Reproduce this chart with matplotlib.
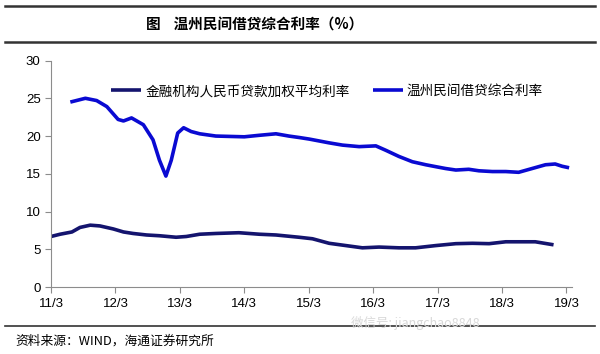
import matplotlib.pyplot as plt
from matplotlib.lines import Line2D

plt.rcParams['font.family'] = ['Noto Sans CJK SC', 'DejaVu Sans']

# month index counted from 2011-03 (0) to 2019-03 (96)
tick_months = [0, 12, 24, 36, 48, 60, 72, 84, 96]
tick_labels = ['11/3', '12/3', '13/3', '14/3', '15/3', '16/3', '17/3', '18/3', '19/3']

# 金融机构人民币贷款加权平均利率
bank_months = [0, 1.7, 3.9, 5.4, 7.3, 9.1, 11.6, 13.5, 15.3, 17.8, 20.2, 23.3, 25.2,
               27.7, 30.7, 35, 38.8, 41.9, 46.2, 48.7, 51.8, 54.9, 58, 61.1, 64.8,
               67.9, 71.7, 75.4, 78.5, 81.6, 84.7, 87.1, 90.2, 93.6]
bank_rate = [6.7, 7.0, 7.3, 7.9, 8.2, 8.1, 7.7, 7.3, 7.1, 6.9, 6.8, 6.6, 6.7,
             7.0, 7.1, 7.2, 7.0, 6.9, 6.6, 6.4, 5.8, 5.5, 5.2, 5.3, 5.2,
             5.2, 5.5, 5.75, 5.8, 5.75, 6.0, 6.0, 6.0, 5.6]

# 温州民间借贷综合利率
wz_months = [3.6, 6.4, 8.5, 10.4, 12.5, 13.5, 15, 17.2, 19, 20.2, 21.4, 22.4, 23.6,
             24.7, 26.1, 27.7, 30.7, 36, 38.8, 41.9, 44.3, 46.3, 48.1, 51.8, 54.3,
             57.4, 60.5, 62.4, 64.8, 67.3, 69.8, 72, 73.5, 75.4, 77.8, 79.7, 82.2,
             84.7, 87.1, 89.6, 92.1, 93.9, 95.2, 96.5]
wz_rate = [24.5, 25.0, 24.7, 23.9, 22.2, 22.0, 22.4, 21.5, 19.5, 16.8, 14.7, 16.8, 20.4,
           21.1, 20.6, 20.3, 20.0, 19.9, 20.1, 20.3, 20.0, 19.8, 19.6, 19.1, 18.8,
           18.6, 18.7, 18.1, 17.3, 16.6, 16.2, 15.9, 15.7, 15.5, 15.6, 15.4, 15.3,
           15.3, 15.2, 15.7, 16.2, 16.3, 16.0, 15.8]

navy = '#14146e'
blue = '#0a0ad2'
grey = '#8c8c8c'

fig = plt.figure(figsize=(6, 3.54), dpi=100)
ax = fig.add_axes([0.085, 0.189, 0.868, 0.64])

ax.plot(bank_months, bank_rate, color=navy, lw=2.6, solid_capstyle='butt',
        solid_joinstyle='round', label='金融机构人民币贷款加权平均利率')
ax.plot(wz_months, wz_rate, color=blue, lw=2.6, solid_capstyle='butt',
        solid_joinstyle='round', label='温州民间借贷综合利率')

ax.set_xlim(0, 97)
ax.set_ylim(0, 30)
ax.set_yticks(range(0, 31, 5))
ax.set_xticks(tick_months)
ax.set_xticklabels(tick_labels)
for s in ['top', 'right']:
    ax.spines[s].set_visible(False)
for s in ['left', 'bottom']:
    ax.spines[s].set_color(grey)
    ax.spines[s].set_linewidth(0.8)
ax.tick_params(axis='both', colors=grey, length=4, width=0.8, labelcolor='black',
               labelsize=9.5)
for lab in ax.get_xticklabels() + ax.get_yticklabels():
    lab.set_fontfamily(['Liberation Sans'])

ax.legend(loc='upper left', bbox_to_anchor=(0.105, 0.92), ncol=2, frameon=False,
          handlelength=2.2, handletextpad=0.3, columnspacing=1.7,
          prop={'size': 9.8}, borderaxespad=0)

# frame lines above and below the chart
fig.add_artist(Line2D([0.008, 0.992], [1 - 6 / 354, 1 - 6 / 354], color='#333333', lw=1.8))
fig.add_artist(Line2D([0.008, 0.992], [1 - 42 / 354, 1 - 42 / 354], color='#333333', lw=1.8))
fig.add_artist(Line2D([0.008, 0.992], [1 - 326 / 354, 1 - 326 / 354], color='#333333', lw=1.2))

fig.text(0.425, 1 - 25 / 354, '图    温州民间借贷综合利率（%）', ha='center', va='center',
         fontsize=10.5, fontweight='bold')
fig.text(0.025, 1 - 341 / 354, '资料来源：WIND，海通证券研究所', ha='left', va='center',
         fontsize=9.2)
fig.text(0.585, 1 - 323 / 354, '微信号: jiangchao8848', ha='left', va='center',
         fontsize=9, color='#d8d8d8')

fig.savefig('out.png', dpi=100)
